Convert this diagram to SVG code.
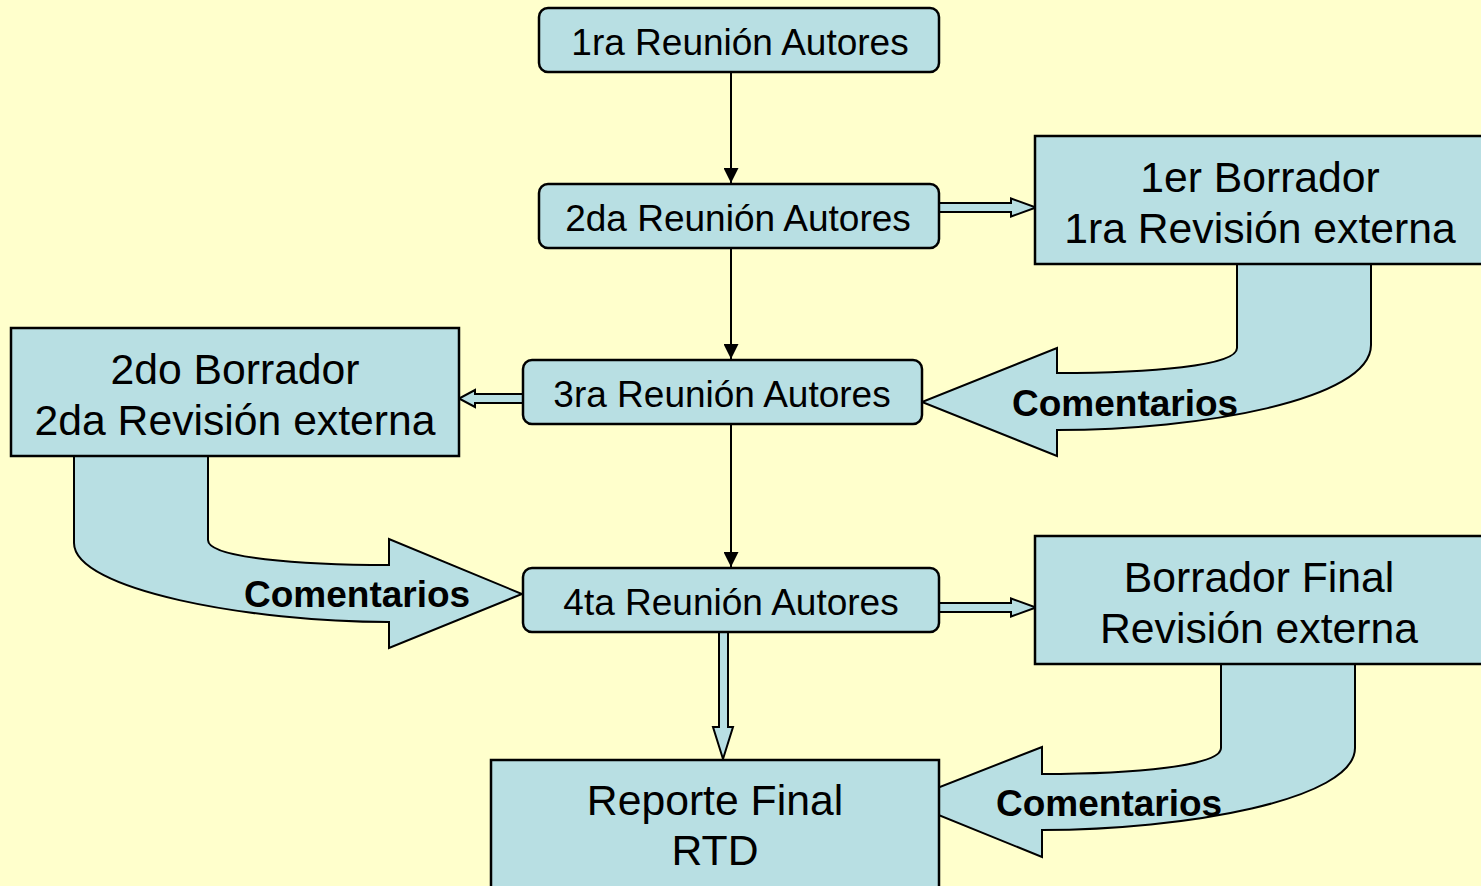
<svg xmlns="http://www.w3.org/2000/svg" width="1481" height="886" viewBox="0 0 1481 886">
<style>
.bg{fill:#FFFFCC}
.box{fill:#B8DFE3;stroke:#000;stroke-width:2.5}
.ln{fill:none;stroke:#000;stroke-width:2}
.ha{fill:#B8DFE3;stroke:#000;stroke-width:2;stroke-linejoin:miter}
.t1{font-family:"Liberation Sans",Arial,sans-serif;font-size:37px;fill:#000;text-anchor:middle}
.t2{font-family:"Liberation Sans",Arial,sans-serif;font-size:42.7px;fill:#000;text-anchor:middle}
.lb{font-family:"Liberation Sans",Arial,sans-serif;font-size:37px;font-weight:bold;fill:#000}
</style>
<defs>
<marker id="ah" markerWidth="15" markerHeight="15" refX="15" refY="7.5" orient="auto" markerUnits="userSpaceOnUse">
<path d="M0,0 L15,7.5 L0,15 Z" fill="#000"/>
</marker>
</defs>
<rect class="bg" x="0" y="0" width="1481" height="886"/>
<g id="connectors">
<line class="ln" x1="731" y1="72" x2="731" y2="183" marker-end="url(#ah)"/>
<line class="ln" x1="731" y1="248" x2="731" y2="359" marker-end="url(#ah)"/>
<line class="ln" x1="731" y1="424" x2="731" y2="567" marker-end="url(#ah)"/>
<polygon class="ha" points="939,203 1011,203 1011,198.5 1036,207.5 1011,216.5 1011,212 939,212"/>
<polygon class="ha" points="939,603 1011,603 1011,598.5 1036,607.5 1011,616.5 1011,612 939,612"/>
<polygon class="ha" points="523,394 475,394 475,390 459,398.5 475,407 475,403 523,403"/>
<polygon class="ha" points="719,632 719,727 713,727 723,759 733,727 728,727 728,632"/>
<path class="ha" d="M1237,262 L1237,348 C1237,366 1150,373 1057,373 L1057,348 L922,402 L1057,456 L1057,430 C1200,430 1371,400 1371,345 L1371,262 Z"/>
<path class="ha" d="M208,454 L208,540 C208,558 300,565 389,565 L389,539 L522,594 L389,648 L389,622 C250,622 74,590 74,543 L74,454 Z"/>
<path class="ha" d="M1221,662 L1221,748 C1221,766 1134,774 1042,774 L1042,747 L904,801 L1042,857 L1042,830 C1184,830 1355,800 1355,748 L1355,662 Z"/>
<text class="lb" x="1012" y="416">Comentarios</text>
<text class="lb" x="244" y="607">Comentarios</text>
<text class="lb" x="996" y="816">Comentarios</text>
</g>
<g id="n1"><rect class="box" x="539" y="8" width="400" height="64" rx="9"/><text class="t1" x="740" y="55">1ra Reunión Autores</text></g>
<g id="n2"><rect class="box" x="539" y="184" width="400" height="64" rx="9"/><text class="t1" x="738" y="231">2da Reunión Autores</text></g>
<g id="n3"><rect class="box" x="523" y="360" width="399" height="64" rx="9"/><text class="t1" x="722" y="407">3ra Reunión Autores</text></g>
<g id="n4"><rect class="box" x="523" y="568" width="416" height="64" rx="9"/><text class="t1" x="731" y="615">4ta Reunión Autores</text></g>
<g id="b1"><rect class="box" x="1035" y="136" width="452" height="128"/><text class="t2" x="1260" y="192">1er Borrador</text><text class="t2" x="1260" y="243">1ra Revisión externa</text></g>
<g id="b2"><rect class="box" x="11" y="328" width="448" height="128"/><text class="t2" x="235" y="384">2do Borrador</text><text class="t2" x="235" y="435">2da Revisión externa</text></g>
<g id="b3"><rect class="box" x="1035" y="536" width="452" height="128"/><text class="t2" x="1259" y="592">Borrador Final</text><text class="t2" x="1259" y="643">Revisión externa</text></g>
<g id="b4"><rect class="box" x="491" y="760" width="448" height="140"/><text class="t2" x="715" y="815">Reporte Final</text><text class="t2" x="715" y="865">RTD</text></g>
</svg>
